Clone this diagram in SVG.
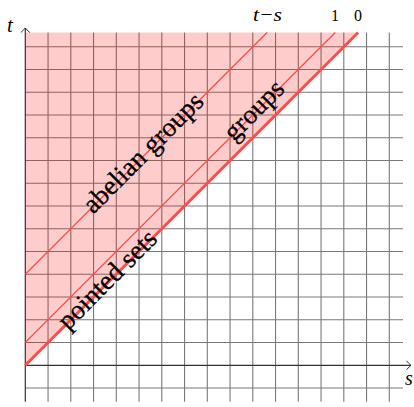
<svg xmlns="http://www.w3.org/2000/svg" width="414" height="407" viewBox="0 0 414 407">
  <style>
    .grid { stroke: #7a7a7a; stroke-width: 1.1; fill: none; }
    .axis { stroke: #333333; stroke-width: 1.2; fill: none; }
    .red { stroke: #ff4d4d; fill: none; stroke-linecap: butt; }
    .thin { stroke-width: 1.3; }
    .thick { stroke-width: 3; }
    .lbl { font-family: "Liberation Serif", "DejaVu Serif", serif; fill: #000; }
    .diag { font-size: 27px; text-anchor: middle; stroke: #000; stroke-width: 0.3; }
    .it { font-style: italic; }
  </style>
  <defs>
    <marker id="arr" viewBox="-6 -6 8 12" markerWidth="8" markerHeight="12" refX="0" refY="0" orient="auto" markerUnits="userSpaceOnUse">
      <path d="M-4.5,-4.5 Q-1.5,-1 0,0 Q-1.5,1 -4.5,4.5" stroke="#333333" stroke-width="1" fill="none"/>
    </marker>
  </defs>
  <rect width="414" height="407" fill="#ffffff"/>
  <g id="grid" class="grid">
    <path d="M48.05,32.5V401.7 M70.8,32.5V401.7 M93.55,32.5V401.7 M116.3,32.5V401.7 M139.05,32.5V401.7 M161.8,32.5V401.7 M184.55,32.5V401.7 M207.3,32.5V401.7 M230.05,32.5V401.7 M252.8,32.5V401.7 M275.55,32.5V401.7 M298.3,32.5V401.7 M321.05,32.5V401.7 M343.8,32.5V401.7 M366.55,32.5V401.7 M389.3,32.5V401.7"/>
    <path d="M25.3,388.05H403 M25.3,342.55H403 M25.3,319.8H403 M25.3,297.05H403 M25.3,274.3H403 M25.3,251.55H403 M25.3,228.8H403 M25.3,206.05H403 M25.3,183.3H403 M25.3,160.55H403 M25.3,137.8H403 M25.3,115.05H403 M25.3,92.3H403 M25.3,69.55H403 M25.3,46.8H403"/>
  </g>
  <g id="region">
    <polygon points="25.3,365.3 358.1,32.5 25.3,32.5" fill="#ff0000" fill-opacity="0.2"/>
  </g>
  <g id="axes">
    <line class="axis" x1="25.3" y1="401.7" x2="25.3" y2="28" marker-end="url(#arr)"/>
    <line class="axis" x1="25.3" y1="365.3" x2="411" y2="365.3" marker-end="url(#arr)"/>
    <text class="lbl it" x="7" y="32" font-size="21">t</text>
    <text class="lbl it" x="405" y="385" font-size="20">s</text>
  </g>
  <g id="connectors">
    <line class="red thick" x1="25.3" y1="365.3" x2="358.1" y2="32.5"/>
    <line class="red thin" x1="25.3" y1="342.55" x2="335.35" y2="32.5"/>
    <line class="red thin" x1="25.3" y1="274.3" x2="267.1" y2="32.5"/>
  </g>
  <g id="line-labels">
    <text class="lbl it" x="253" y="20.7" font-size="19" textLength="29" lengthAdjust="spacingAndGlyphs">t−s</text>
    <text class="lbl" x="335" y="20.7" font-size="16" text-anchor="middle">1</text>
    <text class="lbl" x="358" y="20.7" font-size="16" text-anchor="middle">0</text>
  </g>
  <g id="pointed-sets" transform="translate(109.2,281.4) rotate(-45)">
    <text class="lbl diag" x="0" y="6">pointed sets</text>
  </g>
  <g id="groups" transform="translate(255.8,112) rotate(-45)">
    <text class="lbl diag" x="0" y="6">groups</text>
  </g>
  <g id="abelian-groups" transform="translate(144.9,154.7) rotate(-45)">
    <text class="lbl diag" x="0" y="6">abelian groups</text>
  </g>
</svg>
